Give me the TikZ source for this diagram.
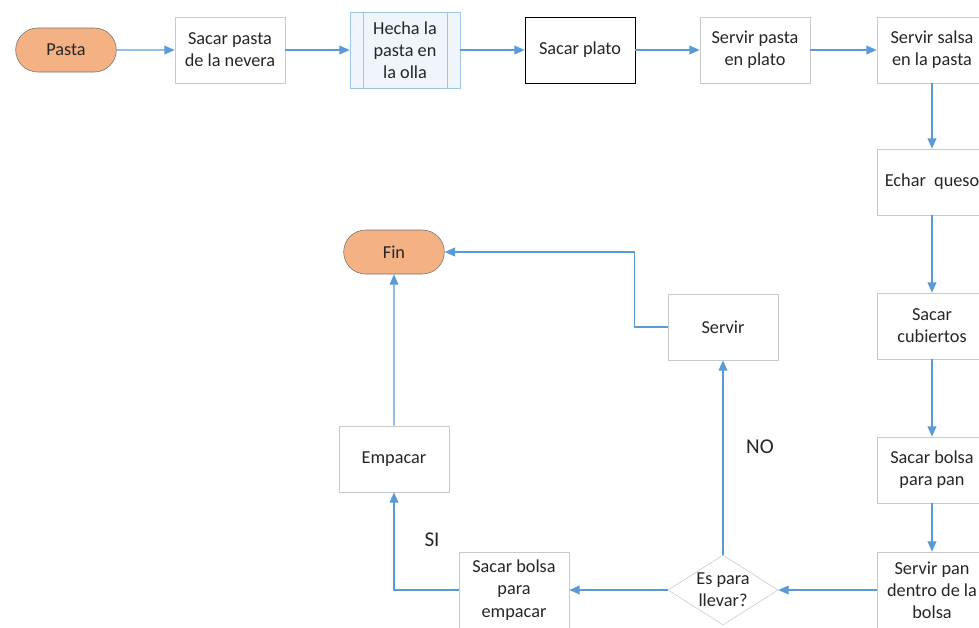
\documentclass[tikz,border=0pt]{standalone}
\usepackage{fontspec}
\setmainfont{Carlito}
\usepackage{tikz}
\usetikzlibrary{shapes.misc,shapes.geometric,arrows.meta}
\definecolor{flecha}{HTML}{5B9BD5}
\definecolor{borde}{HTML}{C9C9C9}
\definecolor{naranja}{HTML}{F4B183}
\definecolor{texto}{HTML}{262626}
\tikzset{
  >={Triangle[length=2.6mm,width=2.2mm]},
}

\begin{document}
\begin{tikzpicture}[
  x=0.025cm,y=-0.025cm,
  every node/.style={font=\fontsize{13}{15.8}\selectfont,text=texto,align=center},
  paso/.style={draw=borde,fill=white,minimum width=2.75cm,minimum height=1.65cm,inner sep=2pt},
  term/.style={rounded rectangle,draw=black!55,fill=naranja,minimum width=2.75cm,minimum height=1.1cm},
  subp/.style={paso,draw=flecha!60,fill=flecha!10,minimum height=1.9cm},
  dec/.style={diamond,draw=borde,fill=white,minimum width=2.75cm,minimum height=1.75cm,inner sep=-4pt},
  con/.style={->,draw=flecha,line width=0.9pt},
  etq/.style={font=\fontsize{15}{17}\selectfont}
]
\useasboundingbox (0,0) rectangle (979,627);

\node[term] (pasta) at (66,50) {Pasta};
\node[paso] (nev) at (230,50) {Sacar pasta\\de la nevera};
\node[subp] (olla) at (405,50) {Hecha la\\pasta en\\la olla};
\node[paso,draw=black] (plato) at (580,50) {Sacar plato};
\node[paso] (spas) at (755,50) {Servir pasta\\en plato};
\node[paso] (salsa) at (932,50) {Servir salsa\\en la pasta};

\node[paso] (queso) at (932,182) {Echar \ queso};
\node[paso] (cub) at (932,326) {Sacar\\cubiertos};
\node[paso] (bpan) at (932,470) {Sacar bolsa\\para pan};
\node[paso,minimum height=1.9cm] (span) at (932,590) {Servir pan\\dentro de la\\bolsa};

\node[dec] (llevar) at (723,590) {Es para\\llevar?};
\node[paso,minimum height=1.9cm] (bemp) at (514,590) {Sacar bolsa\\para\\empacar};
\node[paso] (emp) at (394,459) {Empacar};
\node[paso] (serv) at (723,327) {Servir};
\node[term] (fin) at (394,252) {Fin};

\draw[flecha!60] ([xshift=0.33cm]olla.north west) -- ([xshift=0.33cm]olla.south west);
\draw[flecha!60] ([xshift=-0.33cm]olla.north east) -- ([xshift=-0.33cm]olla.south east);

\draw[con] (pasta) -- (nev);
\draw[con] (nev) -- (olla);
\draw[con] (olla) -- (plato);
\draw[con] (plato) -- (spas);
\draw[con] (spas) -- (salsa);

\draw[con] (salsa) -- (queso);
\draw[con] (queso) -- (cub);
\draw[con] (cub) -- (bpan);
\draw[con] (bpan) -- (span);

\draw[con] (span) -- (llevar);
\draw[con] (llevar) -- (bemp);
\draw[con] (bemp.west) -| (emp.south);
\draw[con] (emp) -- (fin);
\draw[con] (llevar.north) -- (serv.south);
\draw[con] (serv.west) -- ++(-33,0) |- (fin.east);

\node[etq] (si) at (432,540) {SI};
\node[etq] (no) at (760,447) {NO};

\end{tikzpicture}
\end{document}
